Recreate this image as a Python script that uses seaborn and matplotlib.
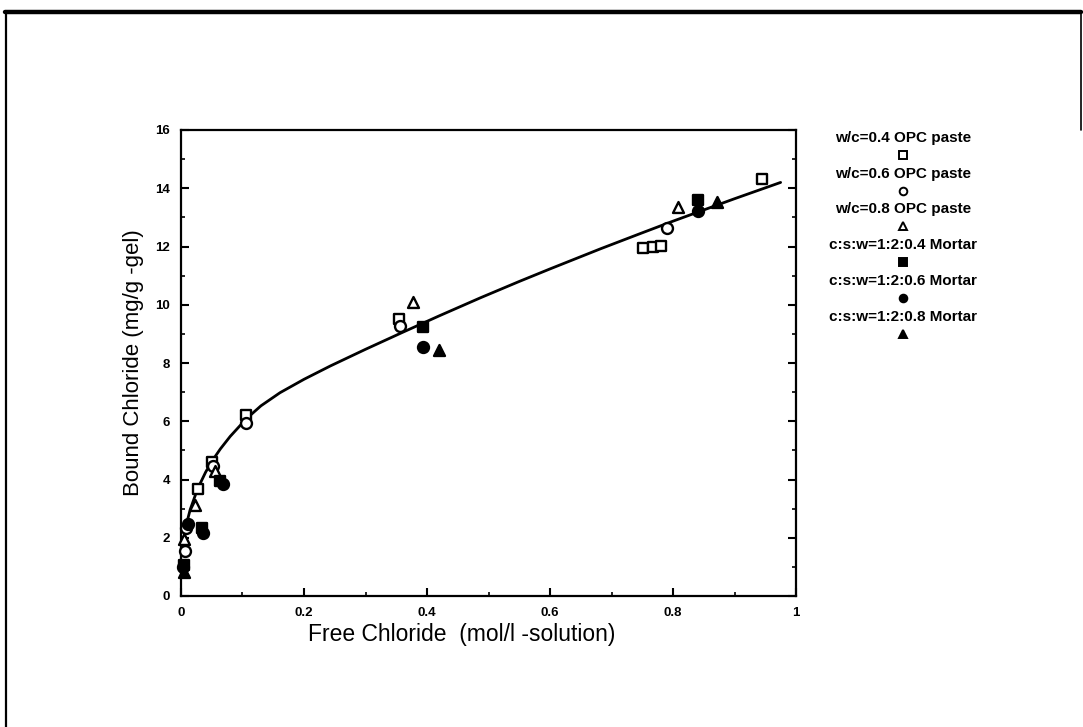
import numpy as np
import pandas as pd
import matplotlib
matplotlib.use("Agg")
import matplotlib.pyplot as plt
from matplotlib.lines import Line2D
from matplotlib.ticker import MultipleLocator, FixedLocator
import seaborn as sns

# ---- data -------------------------------------------------------------
series_labels = [
    "w/c=0.4 OPC paste",
    "w/c=0.6 OPC paste",
    "w/c=0.8 OPC paste",
    "c:s:w=1:2:0.4 Mortar",
    "c:s:w=1:2:0.6 Mortar",
    "c:s:w=1:2:0.8 Mortar",
]

paste04_x = [0.945, 0.752, 0.767, 0.780, 0.354, 0.106, 0.050, 0.027]
paste04_y = [14.31, 11.95, 11.98, 12.02, 9.50, 6.22, 4.60, 3.68]

paste06_x = [0.790, 0.356, 0.106, 0.052, 0.008, 0.007]
paste06_y = [12.62, 9.28, 5.93, 4.45, 2.35, 1.53]

paste08_x = [0.808, 0.378, 0.055, 0.023, 0.005]
paste08_y = [13.34, 10.11, 4.30, 3.14, 1.95]

mortar04_x = [0.840, 0.394, 0.064, 0.034, 0.005]
mortar04_y = [13.60, 9.24, 3.95, 2.32, 1.07]

mortar06_x = [0.840, 0.394, 0.068, 0.036, 0.012, 0.004]
mortar06_y = [13.22, 8.54, 3.85, 2.15, 2.48, 0.98]

mortar08_x = [0.872, 0.420, 0.005]
mortar08_y = [13.54, 8.43, 0.84]

# fitted binding isotherm, traced along its length
curve_x = [0.003, 0.0065, 0.015, 0.027, 0.040, 0.050, 0.064, 0.080, 0.106,
           0.130, 0.161, 0.200, 0.243, 0.300, 0.360, 0.420, 0.487, 0.550,
           0.600, 0.682, 0.750, 0.800, 0.900, 0.975]
curve_y = [1.70, 2.28, 2.97, 3.68, 4.25, 4.62, 5.05, 5.48, 6.08,
           6.53, 6.98, 7.44, 7.90, 8.47, 9.05, 9.62, 10.24, 10.80,
           11.23, 11.92, 12.47, 12.87, 13.64, 14.20]

x_ticks = [0, 0.2, 0.4, 0.6, 0.8, 1.0]
x_tick_labels = ["0", "0.2", "0.4", "0.6", "0.8", "1"]
y_ticks = [0, 2, 4, 6, 8, 10, 12, 14, 16]

# ---- styling ----------------------------------------------------------
series_x = [paste04_x, paste06_x, paste08_x, mortar04_x, mortar06_x, mortar08_x]
series_y = [paste04_y, paste06_y, paste08_y, mortar04_y, mortar06_y, mortar08_y]
marker_shapes = ["s", "o", "^", "s", "o", "^"]
marker_filled = [False, False, False, True, True, True]

frames = []
for lab, xs, ys in zip(series_labels, series_x, series_y):
    frames.append(pd.DataFrame({"free": xs, "bound": ys, "series": lab}))
points = pd.concat(frames, ignore_index=True)
curve = pd.DataFrame({"free": curve_x, "bound": curve_y})

sns.set_theme(style="ticks")
plt.rcParams["font.family"] = ["Liberation Sans", "DejaVu Sans"]
plt.rcParams["text.color"] = "black"
plt.rcParams["axes.labelcolor"] = "black"

fig = plt.figure(figsize=(10.83, 7.27), dpi=100)
ax = fig.add_axes([181 / 1083, 1 - 596 / 727, (796 - 181) / 1083, (596 - 130) / 727])

sns.lineplot(data=curve, x="free", y="bound", ax=ax, color="black",
             linewidth=2.0, sort=True, estimator=None)

for lab, mk, full in zip(series_labels, marker_shapes, marker_filled):
    sub = points[points["series"] == lab]
    sns.scatterplot(data=sub, x="free", y="bound", ax=ax, marker=mk, s=62,
                    color="black", facecolor="black" if full else "white",
                    edgecolor="black", linewidth=1.7, zorder=3, clip_on=False)

ax.set_xlim(0, 1)
ax.set_ylim(0, 16)
ax.xaxis.set_major_locator(FixedLocator(x_ticks))
ax.set_xticklabels(x_tick_labels)
ax.xaxis.set_minor_locator(MultipleLocator(0.1))
ax.yaxis.set_major_locator(FixedLocator(y_ticks))
ax.yaxis.set_minor_locator(MultipleLocator(1))

for side in ["left", "right", "top", "bottom"]:
    ax.spines[side].set_visible(True)
    ax.spines[side].set_linewidth(1.6)
    ax.spines[side].set_color("black")

ax.tick_params(axis="both", which="major", direction="in", length=6, width=1.5,
               colors="black", labelsize=9.5, pad=8, right=True, top=False)
ax.tick_params(axis="both", which="minor", direction="in", length=3, width=1.2,
               colors="black", right=True, top=False)
for lbl in ax.get_xticklabels() + ax.get_yticklabels():
    lbl.set_fontweight("bold")

ax.set_xlabel("Free Chloride  (mol/l -solution)", fontsize=16.5, color="black")
ax.xaxis.set_label_coords((462 - 181) / 615, -0.058)
ax.set_ylabel("Bound Chloride (mg/g -gel)", fontsize=16, labelpad=8, color="black")

# legend column: label text with its symbol centred beneath
legend_cx = 903 / 1083
text_rows = [138, 174, 209, 245, 281, 317]
for lab, mk, full, ty in zip(series_labels, marker_shapes, marker_filled, text_rows):
    fig.text(legend_cx, 1 - ty / 727, lab, ha="center", va="center",
             fontsize=11, fontweight="bold", color="black")
    fig.add_artist(Line2D([legend_cx], [1 - (ty + 17) / 727],
                          transform=fig.transFigure, marker=mk, markersize=5.5,
                          markerfacecolor="black" if full else "white",
                          markeredgecolor="black", markeredgewidth=1.4,
                          linestyle="none"))

# page frame
fig.add_artist(Line2D([5 / 1083, 1081 / 1083], [1 - 12 / 727, 1 - 12 / 727],
                      transform=fig.transFigure, color="black", linewidth=3.2))
fig.add_artist(Line2D([6 / 1083, 6 / 1083], [1 - 12 / 727, 0],
                      transform=fig.transFigure, color="black", linewidth=1.6))
fig.add_artist(Line2D([1081 / 1083, 1081 / 1083], [1 - 12 / 727, 1 - 130 / 727],
                      transform=fig.transFigure, color="black", linewidth=1.2))

fig.savefig("out.png", dpi=100, facecolor="white")
